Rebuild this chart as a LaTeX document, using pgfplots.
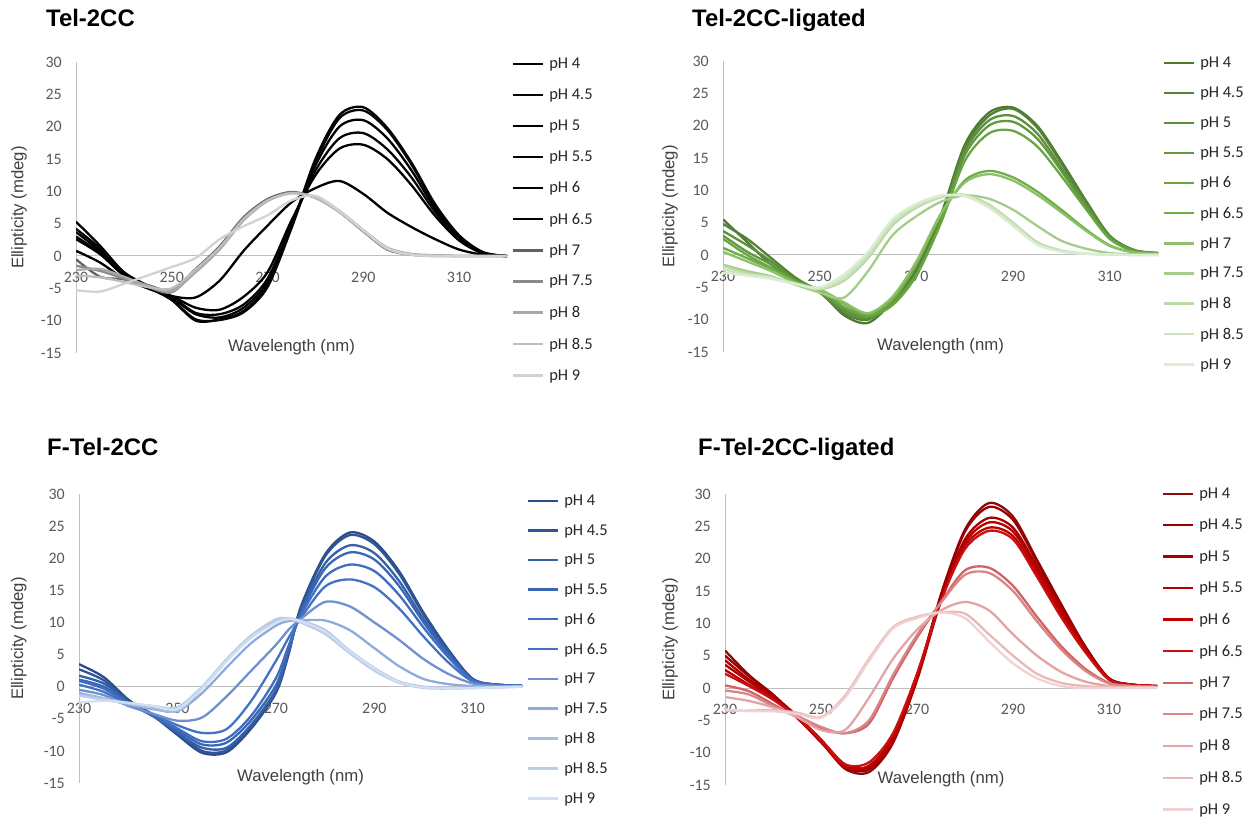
\documentclass[border=0pt]{standalone}
\usepackage{pgfplots}
\pgfplotsset{compat=1.18}
\usepackage{pgfplotstable}
\usepackage{fontspec}
\setmainfont{Liberation Sans}
\newfontfamily\calibri{Carlito}

\definecolor{axisgray}{HTML}{BFBFBF}
\definecolor{tickgray}{HTML}{595959}
\definecolor{labelgray}{HTML}{404040}
\definecolor{legendgray}{HTML}{262626}
% gray
\definecolor{ka}{HTML}{000000}\definecolor{kb}{HTML}{050505}\definecolor{kc}{HTML}{000000}
\definecolor{kd}{HTML}{050505}\definecolor{ke}{HTML}{000000}\definecolor{kf}{HTML}{000000}
\definecolor{kg}{HTML}{626262}\definecolor{kh}{HTML}{8A8A8A}\definecolor{ki}{HTML}{A8A8A8}
\definecolor{kj}{HTML}{BDBDBD}\definecolor{kk}{HTML}{D2D2D2}
% green
\definecolor{ga}{HTML}{4E7A2E}\definecolor{gb}{HTML}{548235}\definecolor{gc}{HTML}{5B8F3A}
\definecolor{gd}{HTML}{61993E}\definecolor{ge}{HTML}{68A642}\definecolor{gf}{HTML}{70AD47}
\definecolor{gg}{HTML}{8CC06B}\definecolor{gh}{HTML}{A3CD88}\definecolor{gi}{HTML}{BBDAA6}
\definecolor{gj}{HTML}{CCE3BD}\definecolor{gk}{HTML}{DDEDD3}
% blue
\definecolor{ba}{HTML}{2A4C8C}\definecolor{bb}{HTML}{2F5597}\definecolor{bc}{HTML}{3560A8}
\definecolor{bd}{HTML}{3A67B5}\definecolor{be}{HTML}{3F6DBF}\definecolor{bf}{HTML}{4472C4}
\definecolor{bg}{HTML}{7090D0}\definecolor{bh}{HTML}{8FAADC}\definecolor{bi}{HTML}{A8BDE4}
\definecolor{bj}{HTML}{BCCCEA}\definecolor{bk}{HTML}{D2DEF2}
% red
\definecolor{ra}{HTML}{8B0A0A}\definecolor{rb}{HTML}{990000}\definecolor{rc}{HTML}{A80000}
\definecolor{rd}{HTML}{B40000}\definecolor{re}{HTML}{C00000}\definecolor{rf}{HTML}{C81010}
\definecolor{rg}{HTML}{D06464}\definecolor{rh}{HTML}{D98585}\definecolor{ri}{HTML}{E2A4A4}
\definecolor{rj}{HTML}{E8B9B9}\definecolor{rk}{HTML}{F0D2D2}

% Tel-2CC
\pgfplotstableread{
W a b c d e f g h i j k
230 5.3 4.2 3.7 3.0 2.6 0.8 -0.5 -1.5 -2.2 -3.0 -5.3
235 1.6 1.2 0.8 0.5 0.3 -1.0 -3.2 -2.3 -2.0 -3.3 -5.5
240 -2.5 -2.5 -2.8 -3.0 -3.0 -3.5 -3.6 -3.5 -3.2 -4.0 -4.3
245 -4.6 -4.8 -4.8 -4.8 -5.0 -5.0 -4.5 -4.8 -4.6 -4.8 -3.0
250 -6.8 -6.8 -6.5 -6.3 -6.2 -6.2 -5.3 -5.6 -5.4 -5.0 -1.7
255 -10.0 -9.8 -9.0 -8.8 -8.0 -6.4 -2.0 -2.3 -2.5 -2.1 -0.3
260 -9.8 -9.9 -9.5 -9.0 -8.3 -3.8 1.5 1.2 1.0 1.3 2.6
265 -8.5 -8.7 -8.0 -7.5 -6.3 0.8 6.0 5.8 5.5 5.7 4.6
270 -4.5 -4.8 -4.0 -3.5 -2.5 4.7 8.8 8.6 8.5 8.6 6.3
275 4.5 4.3 4.8 5.0 5.5 8.3 9.9 9.8 9.7 9.7 8.6
280 15.0 14.5 14.0 13.2 12.5 10.5 9.0 9.0 9.1 9.0 9.3
285 21.8 21.3 20.0 18.2 16.6 11.6 6.8 6.9 7.0 6.8 7.0
290 23.0 22.5 21.0 19.0 17.2 9.6 3.8 3.9 4.0 3.9 4.0
295 19.8 19.5 18.2 16.5 15.0 6.7 1.0 1.2 1.3 1.1 1.2
300 14.5 14.2 13.3 12.2 11.0 4.5 0.2 0.3 0.3 0.2 0.2
305 8.0 7.8 7.3 6.8 6.2 2.6 0 0.1 0.1 0 0
310 3.2 3.0 2.8 2.6 2.4 1.0 0 0 0 0 0
315 0.6 0.5 0.5 0.4 0.4 0.2 0 0 0 0 0
320 0 0 0 0 0 0 0 0 0 0 0
}\tabA

% Tel-2CC-ligated
\pgfplotstableread{
W a b c d e f g h i j k
230 5.5 4.8 3.7 3.0 2.5 1.1 0.5 -1.5 -1.7 -2.2 -2.7
235 2.0 2.5 1.5 0.5 0.0 -0.5 -1.0 -2.5 -2.8 -3.0 -3.2
240 -1.5 -0.5 -1.0 -1.5 -2.0 -2.2 -2.5 -3.3 -3.4 -3.5 -3.7
245 -3.8 -3.5 -3.8 -4.0 -4.0 -4.2 -4.3 -4.6 -4.5 -4.4 -4.5
250 -5.6 -5.8 -5.7 -5.8 -5.5 -5.5 -5.3 -5.8 -5.3 -5.2 -5.0
255 -9.3 -9.0 -8.6 -8.3 -8.0 -7.5 -7.3 -6.6 -4.0 -3.5 -3.0
260 -10.5 -10.0 -9.8 -9.6 -9.4 -9.2 -9.0 -2.5 -0.5 0.0 0.5
265 -7.2 -7.0 -7.4 -7.6 -7.8 -7.0 -6.5 3.0 4.5 5.0 5.5
270 -2.2 -2.5 -2.8 -3.0 -3.2 -1.5 -1.0 6.0 7.3 7.6 7.9
275 6.0 5.5 5.3 5.0 4.8 6.0 6.3 8.2 8.9 9.0 9.2
280 17.0 16.5 16.0 15.4 14.5 11.5 11.2 9.2 9.3 9.2 9.1
285 22.0 21.5 20.8 20.0 18.8 13.0 12.5 8.7 7.8 7.6 7.3
290 22.8 22.6 21.5 20.6 19.2 12.0 11.5 7.0 5.0 4.8 4.5
295 20.0 19.7 18.8 18.0 16.8 9.8 9.3 4.5 2.0 1.8 1.6
300 14.5 14.2 13.5 13.0 12.2 7.0 6.6 2.2 0.7 0.6 0.5
305 8.5 8.3 8.0 7.6 7.2 4.0 3.8 1.0 0.2 0.2 0.2
310 3.0 2.9 2.8 2.7 2.5 1.5 1.4 0.3 0.1 0.1 0.1
315 0.8 0.7 0.7 0.7 0.6 0.4 0.4 0.1 0 0 0
320 0.3 0.3 0.3 0.3 0.3 0.2 0.2 0.1 0 0 0
}\tabB

% F-Tel-2CC
\pgfplotstableread{
W a b c d e f g h i j k
230 3.5 2.7 1.7 1.1 0.9 0.3 -0.5 -1.0 -1.2 -1.4 -2.5
235 1.5 1.0 0.5 0.0 -0.3 -0.8 -1.3 -1.8 -1.8 -2.0 -2.2
240 -2.0 -2.2 -2.3 -2.5 -2.6 -2.8 -3.0 -2.8 -2.6 -2.6 -2.5
245 -4.5 -4.3 -4.5 -4.6 -4.5 -4.3 -4.2 -3.5 -3.3 -3.0 -3.0
250 -7.5 -7.0 -7.2 -6.8 -6.5 -6.0 -5.3 -3.8 -3.8 -3.2 -3.5
255 -10.3 -10.0 -9.5 -9.0 -8.5 -7.2 -4.8 -1.0 -0.3 0.0 -0.3
260 -10.2 -9.9 -9.5 -8.7 -8.1 -6.6 -1.5 3.0 4.0 4.3 4.0
265 -6.5 -6.2 -5.9 -5.2 -4.5 -2.2 2.5 6.8 7.8 8.0 7.6
270 -1.0 -0.8 -0.5 0.2 1.3 4.0 6.5 9.5 10.2 10.5 10.0
272.5 4.8 5.0 5.2 5.6 6.2 7.5 8.8 10.2 10.6 10.6 10.5
275 12.3 12.0 11.6 11.3 11.0 10.6 10.5 10.3 10.3 10.0 10.2
280 20.6 20.3 19.2 18.4 17.1 15.6 13.2 10.3 8.8 8.2 8.6
285 24.0 23.6 22.0 20.9 19.0 16.7 12.5 8.8 5.6 5.2 5.5
290 22.6 22.2 20.8 19.8 18.0 15.5 10.0 6.0 2.9 2.5 2.8
295 18.0 17.6 16.5 15.7 14.3 12.2 7.3 3.2 0.8 0.6 0.7
300 11.5 11.2 10.5 10.0 9.2 7.8 4.3 1.2 0.0 -0.2 -0.1
305 5.8 5.6 5.3 5.0 4.6 3.8 2.0 0.4 -0.2 -0.3 -0.2
310 1.2 1.2 1.1 1.0 1.0 0.8 0.5 0.1 -0.2 -0.2 -0.2
315 0.3 0.3 0.3 0.3 0.3 0.2 0.1 0 -0.1 -0.1 -0.1
320 0.2 0.2 0.2 0.2 0.2 0.1 0.1 0 0 0 0
}\tabC

% F-Tel-2CC-ligated
\pgfplotstableread{
W a b c d e f g h i j k
230 5.8 5.0 4.3 3.6 2.8 2.2 0.4 -0.4 -1.4 -3.5 -3.3
235 2.0 1.8 1.3 1.0 0.5 0.3 -0.5 -1.0 -2.0 -3.5 -3.6
240 -1.0 -1.2 -1.3 -1.5 -1.6 -1.8 -2.5 -2.8 -3.0 -3.4 -3.6
245 -4.5 -4.3 -4.6 -4.5 -4.6 -4.5 -4.5 -4.3 -4.5 -3.8 -4.0
250 -8.2 -8.0 -8.3 -8.0 -8.4 -8.0 -6.2 -6.0 -6.5 -4.5 -4.6
255 -12.5 -12.2 -12.0 -11.8 -12.2 -11.8 -7.0 -7.0 -6.5 -1.2 -1.5
260 -13.0 -12.6 -12.3 -12.2 -12.0 -11.5 -5.5 -5.0 -1.5 4.5 4.2
265 -8.5 -8.2 -8.0 -8.3 -7.5 -7.0 1.5 2.0 4.5 9.4 9.2
270 1.5 1.8 1.5 1.2 2.0 2.2 7.8 8.2 9.0 11.0 10.8
275 14.5 14.2 13.8 13.5 13.5 13.5 13.3 13.2 12.0 11.7 11.7
280 24.5 24.2 23.0 22.5 22.0 21.5 18.2 17.5 13.3 11.5 10.8
285 28.6 28.0 26.3 25.6 24.8 24.3 18.6 17.8 12.0 8.3 7.2
290 26.5 26.0 24.8 24.2 23.5 23.0 15.8 15.0 8.3 5.0 3.8
295 19.8 19.5 18.8 18.3 17.7 17.2 11.0 10.3 5.0 2.2 1.5
300 13.0 12.8 12.3 12.0 11.5 11.0 6.5 6.0 2.5 0.8 0.3
305 6.5 6.4 6.2 6.0 5.8 5.6 3.0 2.7 1.0 0.3 0.0
310 1.5 1.5 1.4 1.4 1.3 1.3 0.8 0.7 0.3 0.1 0.0
315 0.5 0.5 0.5 0.5 0.5 0.5 0.3 0.3 0.1 0.1 0
320 0.3 0.3 0.3 0.3 0.3 0.3 0.2 0.2 0.1 0.1 0
}\tabD

\pgfplotsset{
  cdaxis/.style={
    scale only axis,
    anchor=south west,
    xmin=230, xmax=320, ymin=-15, ymax=30,
    axis y line=left, axis x line=middle,
    hide obscured x ticks=false, hide obscured y ticks=false,
    axis line style={draw=axisgray, line width=1bp, -},
    xtick={230,250,270,290,310}, xticklabels={230,250,270,290,310},
    ytick={-15,-10,-5,0,5,10,15,20,25,30},
    yticklabels={-15,-10,-5,0,5,10,15,20,25,30},
    major tick length=0pt,
    tick style={draw=none},
    ticklabel style={font=\calibri\fontsize{16}{19}\selectfont, text=tickgray, inner sep=0pt},
    xticklabel style={anchor=north, yshift=-16bp},
    yticklabel style={anchor=east, xshift=-14bp},
    xlabel={Wavelength (nm)},
    ylabel={Ellipticity (mdeg)},
    label style={font=\fontsize{16.8}{19}\selectfont, text=labelgray},
    x label style={at={(axis description cs:0.5,0.02)}, anchor=center},
    legend cell align=left,
    legend style={draw=none, fill=none, inner sep=0pt, outer sep=0pt,
      at={(axis description cs:1,1)}, anchor=north west, xshift=5bp,
      font=\calibri\fontsize{16.5}{19}\selectfont, text=legendgray,
      nodes={inner sep=0pt}},
    legend image code/.code={\draw[##1] (0bp,0bp) -- (30bp,0bp); \path (35bp,0bp);},
    every axis plot/.append style={line width=2.3bp, smooth, no markers},
  }
}

\newcommand\plotall[2]{%
  \addplot[#2a] table[x=W,y=a]{#1}; \addlegendentry{pH 4}
  \addplot[#2b] table[x=W,y=b]{#1}; \addlegendentry{pH 4.5}
  \addplot[#2c] table[x=W,y=c]{#1}; \addlegendentry{pH 5}
  \addplot[#2d] table[x=W,y=d]{#1}; \addlegendentry{pH 5.5}
  \addplot[#2e] table[x=W,y=e]{#1}; \addlegendentry{pH 6}
  \addplot[#2f] table[x=W,y=f]{#1}; \addlegendentry{pH 6.5}
  \addplot[#2g] table[x=W,y=g]{#1}; \addlegendentry{pH 7}
  \addplot[#2h] table[x=W,y=h]{#1}; \addlegendentry{pH 7.5}
  \addplot[#2i] table[x=W,y=i]{#1}; \addlegendentry{pH 8}
  \addplot[#2j] table[x=W,y=j]{#1}; \addlegendentry{pH 8.5}
  \addplot[#2k] table[x=W,y=k]{#1}; \addlegendentry{pH 9}
}

\begin{document}
\begin{tikzpicture}
\path[use as bounding box] (0bp,0bp) rectangle (1250bp,818bp);

\begin{axis}[cdaxis, at={(76bp,465bp)}, width=431bp, height=291bp,
  y label style={at={(axis description cs:-0.132,0.5)}, anchor=center},
  legend style={row sep=18.85bp, yshift=4bp}]
\plotall{\tabA}{k}
\end{axis}

\begin{axis}[cdaxis, at={(723bp,466bp)}, width=435bp, height=291bp,
  y label style={at={(axis description cs:-0.122,0.5)}, anchor=center},
  legend style={row sep=17.85bp, yshift=4bp}]
\plotall{\tabB}{g}
\end{axis}

\begin{axis}[cdaxis, at={(79bp,35bp)}, width=443bp, height=289bp,
  y label style={at={(axis description cs:-0.136,0.5)}, anchor=center},
  legend style={row sep=17.45bp, yshift=-1bp}]
\plotall{\tabC}{b}
\end{axis}

\begin{axis}[cdaxis, at={(725bp,33bp)}, width=432bp, height=291bp,
  y label style={at={(axis description cs:-0.127,0.5)}, anchor=center},
  legend style={row sep=19.25bp, yshift=6bp}]
\plotall{\tabD}{r}
\end{axis}

\begin{scope}[every node/.style={anchor=base west, inner sep=0pt, font=\bfseries\fontsize{24}{28}\selectfont}]
\node at (46bp,791bp) {Tel-2CC};
\node at (692bp,791bp) {Tel-2CC-ligated};
\node at (47bp,362bp) {F-Tel-2CC};
\node at (698bp,362bp) {F-Tel-2CC-ligated};
\end{scope}
\end{tikzpicture}
\end{document}
